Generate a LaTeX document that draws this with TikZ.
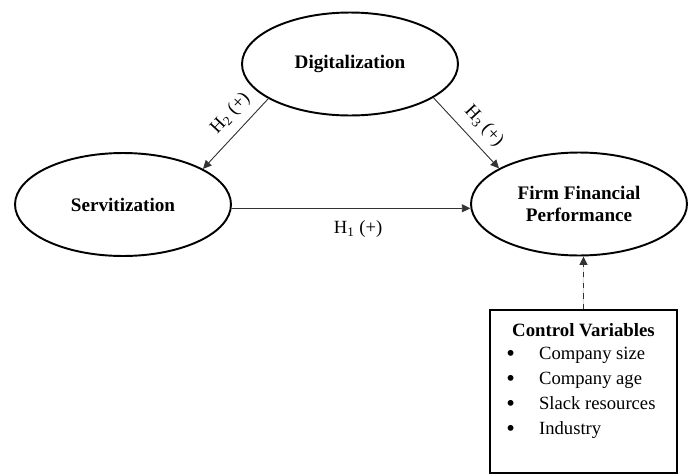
\documentclass[tikz,border=0pt]{standalone}
\usepackage{fontspec}
\setmainfont{Liberation Serif}
\usetikzlibrary{shapes.geometric,arrows.meta}
\newcommand{\cvbullet}{\raisebox{-1.2pt}{\fontsize{14}{14}\selectfont\textbullet}}
\begin{document}
\begin{tikzpicture}[
    x=0.02cm, y=-0.02cm,
    construct/.style={ellipse, draw, line width=1.1pt, minimum width=4.32cm, minimum height=2.06cm, inner sep=0pt, align=center, font=\fontsize{10.9}{13}\selectfont\bfseries},
    hyp/.style={-{Triangle[length=0.17cm, width=0.16cm]}, line width=0.5pt, draw=black!80, fill=black},
    hlabel/.style={font=\fontsize{10.6}{12}\selectfont, inner sep=1pt},
    ctrlbox/.style={rectangle, draw, line width=1.1pt, minimum width=3.74cm, minimum height=3.26cm}
]
    \useasboundingbox (0,0) rectangle (691,474);

    % Konstrukte
    \node[construct] (dig) at (350,64) {Digitalization};
    \node[construct] (serv) at (123,204.5) {Servitization};
    \node[construct] (ffp) at (579,204) {Firm Financial\\Performance};

    % Kontrollvariablen
    \node[ctrlbox] (ctrl) at (583.5,391.5) {};
    \node[font=\fontsize{10.7}{13}\selectfont\bfseries] (cvtitle) at (583.5,330) {Control Variables};
    \node[anchor=north west, inner sep=0pt, font=\fontsize{10.6}{14.2}\selectfont] (cvlist) at (506,342) {
        \begin{tabular}{@{}p{0.656cm}@{}l@{}}
            \cvbullet & Company size\\
            \cvbullet & Company age\\
            \cvbullet & Slack resources\\
            \cvbullet & Industry
        \end{tabular}
    };

    % Hypothesen
    \coordinate (h1start) at (serv.-2.4);
    \draw[hyp] (h1start) -- node[hlabel, pos=0.53, below=6pt] (h1) {H\textsubscript{1} (+)} (ffp.182.6 |- h1start);
    \draw[hyp] (dig.203) -- node[hlabel, sloped, pos=0.38, above=4pt] (h2) {H\textsubscript{2} (+)} (serv.24);
    \draw[hyp] (dig.338) -- node[hlabel, sloped, pos=0.57, above=4pt] (h3) {H\textsubscript{3} (+)} (ffp.156.3);

    % Kontrolle
    \draw[hyp, dashed] (ctrl.north) -- (ctrl.north |- ffp.south);
\end{tikzpicture}
\end{document}
